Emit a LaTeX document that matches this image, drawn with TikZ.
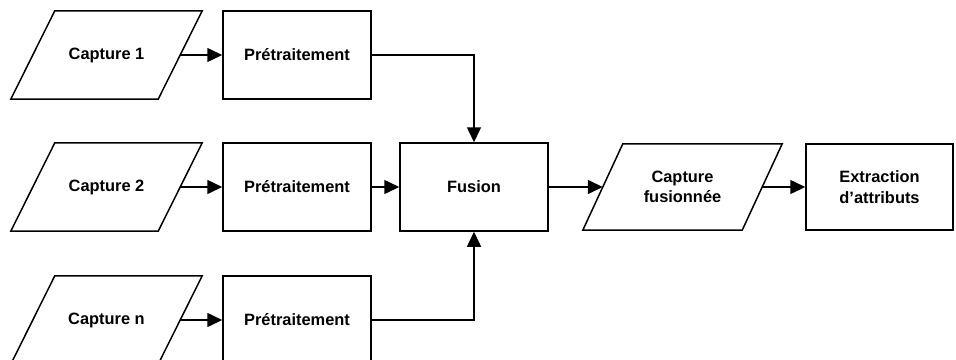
\documentclass[tikz,border=0pt]{standalone}
\usepackage{fontspec}
\setmainfont{Liberation Sans}
\usetikzlibrary{arrows.meta}
\begin{document}
\begin{tikzpicture}[x=1pt,y=-1pt,
  lbl/.style={font=\bfseries\fontsize{16.4}{20.5}\selectfont, align=center, inner sep=0pt},
  boxnode/.style={lbl, draw, line width=1.5pt, minimum width=148pt, minimum height=88pt},
  paranode/.style={lbl, minimum width=147pt, minimum height=88pt},
  edge/.style={line width=1.5pt},
  arr/.style={edge, -{Triangle[length=15pt,width=14pt]}}]
\useasboundingbox (0,0) rectangle (956,359);
\clip (0,0) rectangle (956,359);
% input captures
\node[paranode] (c1) at (106.5,55) {Capture 1};
\node[paranode] (c2) at (106.5,187) {Capture 2};
\node[paranode] (c3) at (106.5,320) {Capture n};
% preprocessing
\node[boxnode] (p1) at (297,55) {Prétraitement};
\node[boxnode] (p2) at (297,187) {Prétraitement};
\node[boxnode] (p3) at (297,320) {Prétraitement};
% fusion
\node[boxnode] (fu) at (474,187) {Fusion};
\node[paranode, minimum width=159pt, minimum height=86pt] (cf) at (682.5,187) {Capture\\fusionnée};
\node[boxnode, minimum width=147pt, minimum height=86pt] (ex) at (879.5,187) {Extraction\\d’attributs};
% parallelogram outlines
\foreach \n/\s in {c1/22,c2/22,c3/22,cf/20}
  \draw[edge] ([xshift=\s pt]\n.north west) -- ([xshift=\s pt]\n.north east)
    -- ([xshift=-\s pt]\n.south east) -- ([xshift=-\s pt]\n.south west) -- cycle;
% connectors
\draw[arr] (c1.east) -- (p1.west);
\draw[arr] (c2.east) -- (p2.west);
\draw[arr] (c3.east) -- (p3.west);
\draw[arr] (p1.east) -| (fu.north);
\draw[arr] (p2.east) -- (fu.west);
\draw[arr] (p3.east) -| (fu.south);
\draw[arr] (fu.east) -- (cf.west);
\draw[arr] (cf.east) -- (ex.west);
\end{tikzpicture}
\end{document}
